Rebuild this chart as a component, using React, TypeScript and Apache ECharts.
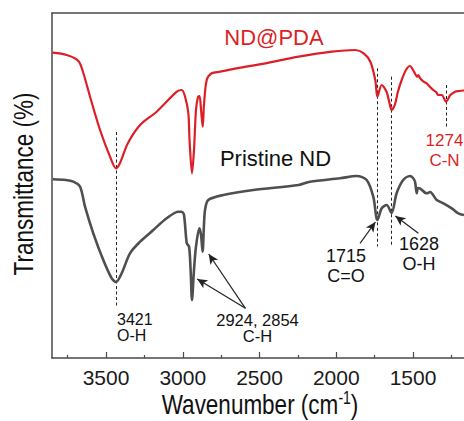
import React, { useEffect, useRef } from "react";
import * as echarts from "echarts";

// Wavenumber (cm-1) / transmittance (arbitrary offset units)
const ndPdaSpectrum: [number, number][] = [
  [3849, 305.3], [3756, 303], [3680, 297], [3648, 285], [3604, 261.3], [3539, 228],
  [3474, 201.3], [3435, 189.7], [3409, 195], [3357, 215], [3278, 233], [3170, 246.3],
  [3039, 266.3], [3007, 268], [2985, 261.3], [2964, 245], [2956, 218], [2940, 184.7],
  [2927, 208], [2914, 248], [2901, 261], [2891, 262], [2881, 248], [2870, 231.3],
  [2862, 253], [2844, 278], [2812, 284.7], [2757, 286.3], [2649, 289.7], [2462, 294.7],
  [2245, 301.3], [2028, 306.3], [1876, 308], [1821, 304.7], [1778, 296.3], [1746, 278],
  [1732, 261.3], [1704, 273], [1672, 266], [1652, 254], [1640, 248], [1619, 253],
  [1599, 266], [1574, 278], [1546, 288], [1520, 292], [1494, 286.3], [1472, 281.3],
  [1466, 283], [1455, 280], [1431, 276.3], [1411, 274.7], [1389, 271], [1368, 268],
  [1350, 266], [1335, 263], [1313, 263], [1285, 256.3], [1257, 263], [1226, 266.3],
  [1200, 267], [1168, 267.5],
];

const pristineSpectrum: [number, number][] = [
  [3847, 178.7], [3761, 178], [3713, 176.3], [3669, 171.3], [3637, 151.3], [3583, 124.7],
  [3518, 98], [3463, 79.7], [3435, 76], [3398, 84.7], [3344, 104.7], [3278, 116.3],
  [3192, 128], [3105, 139.7], [3029, 146.3], [3007, 146.3], [2992, 143], [2974, 114.7],
  [2959, 111.3], [2949, 88], [2940, 58], [2927, 88], [2914, 111.3], [2892, 129.7],
  [2881, 123], [2871, 106.3], [2862, 133], [2855, 148], [2834, 158], [2736, 163],
  [2540, 168], [2245, 173], [2171, 176.3], [1976, 179.7], [1867, 182], [1802, 178],
  [1759, 161.3], [1732, 138], [1704, 149.7], [1672, 153], [1640, 145], [1607, 164.7],
  [1564, 178], [1520, 182], [1500, 180], [1487, 176.3], [1476, 164.7], [1468, 170],
  [1455, 169.7], [1411, 164.7], [1389, 166], [1346, 158], [1302, 154.7], [1248, 149.7],
  [1205, 144.7], [1168, 143],
];

const majorTicks = [3500, 3000, 2500, 2000, 1500];
const minorTicks = [3750, 3250, 2750, 2250, 1750, 1250];
const xMin = 1168;
const xMax = 3852;
const yMin = 0;
const yMax = 345;

// Peak marker dashed lines: [wavenumber, top value, bottom value]
const peakGuides: [number, number, number][] = [
  [3435, 226, 50],
  [1732, 289.7, 111.5],
  [1640, 281.3, 111.5],
  [1285, 273, 231],
];

// Arrows: [tail x, tail y, head x, head y]
const arrows: [number, number, number, number][] = [
  [2592, 49.7, 2906, 79],
  [2592, 49.7, 2831, 104],
  [1845, 114.7, 1745, 136],
  [1465, 124.7, 1615, 142],
];

const RED = "#dc1f26";
const GRAY = "#4f4f4f";
const FONT = '"Liberation Sans", Arial, sans-serif';
const AXIS_COLOR = "#4a4a4a";

export default function App() {
  const ref = useRef<HTMLDivElement>(null);

  useEffect(() => {
    if (!ref.current) return;
    const chart = echarts.init(ref.current, undefined, { renderer: "svg" });

    const guideLines = peakGuides.map(([x, top, bottom]) => [
      { coord: [x, top], symbol: "none", lineStyle: { type: [3, 2.5], color: "#222", width: 1 } },
      { coord: [x, bottom], symbol: "none" },
    ]);
    const arrowLines = arrows.map(([x1, y1, x2, y2]) => [
      { coord: [x1, y1], symbol: "none", lineStyle: { type: "solid", color: "#222", width: 1.2 } },
      { coord: [x2, y2], symbol: "arrow", symbolSize: [7, 10] },
    ]);

    const txt = (
      text: string,
      x: number,
      y: number,
      size: number,
      color: string,
      lineHeight: number,
      align: string = "center"
    ) => ({
      type: "text",
      x,
      y,
      silent: true,
      style: {
        text,
        fill: color,
        fontSize: size,
        fontFamily: FONT,
        lineHeight,
        align,
        verticalAlign: "middle",
      },
    });

    chart.setOption({
      animation: false,
      backgroundColor: "#ffffff",
      grid: { left: 52, right: 0, top: 13, bottom: 63, containLabel: false },
      xAxis: [
        {
          type: "value",
          gridIndex: 0,
          inverse: true,
          min: xMin,
          max: xMax,
          position: "bottom",
          axisLine: { show: true, lineStyle: { color: AXIS_COLOR, width: 1.5 } },
          axisTick: {
            show: true,
            inside: true,
            length: 6,
            customValues: majorTicks,
            lineStyle: { color: AXIS_COLOR, width: 1.2 },
          },
          axisLabel: {
            show: true,
            customValues: majorTicks,
            formatter: (v: number) => String(v),
            fontSize: 21,
            fontFamily: FONT,
            color: "#1a1a1a",
            margin: 9,
          },
          splitLine: { show: false },
        },
        {
          type: "value",
          gridIndex: 0,
          inverse: true,
          min: xMin,
          max: xMax,
          position: "bottom",
          offset: 0,
          axisLine: { show: false },
          axisTick: {
            show: true,
            inside: true,
            length: 3,
            customValues: minorTicks,
            lineStyle: { color: AXIS_COLOR, width: 1.2 },
          },
          axisLabel: { show: false },
          splitLine: { show: false },
        },
        {
          type: "value",
          gridIndex: 0,
          inverse: true,
          min: xMin,
          max: xMax,
          position: "top",
          axisLine: { show: true, lineStyle: { color: AXIS_COLOR, width: 1.5 } },
          axisTick: { show: false },
          axisLabel: { show: false },
          splitLine: { show: false },
        },
      ],
      yAxis: {
        type: "value",
        min: yMin,
        max: yMax,
        axisLine: { show: true, lineStyle: { color: AXIS_COLOR, width: 1.5 } },
        axisTick: { show: false },
        axisLabel: { show: false },
        splitLine: { show: false },
      },
      series: [
        {
          name: "ND@PDA",
          type: "line",
          xAxisIndex: 0,
          data: ndPdaSpectrum,
          showSymbol: false,
          smooth: 0.3,
          silent: true,
          lineStyle: { color: RED, width: 2.2 },
          itemStyle: { color: RED },
          z: 3,
        },
        {
          name: "Pristine ND",
          type: "line",
          xAxisIndex: 0,
          data: pristineSpectrum,
          showSymbol: false,
          smooth: 0.3,
          silent: true,
          lineStyle: { color: GRAY, width: 2.6 },
          itemStyle: { color: GRAY },
          z: 3,
          markLine: {
            silent: true,
            animation: false,
            label: { show: false },
            emphasis: { disabled: true },
            data: [...guideLines, ...arrowLines],
            lineStyle: { color: "#222", width: 1 },
            z: 2,
          },
        },
      ],
      graphic: [
        txt("ND@PDA", 274, 37, 22, RED, 22),
        txt("Pristine ND", 275.5, 158, 22, "#111", 22),
        txt("3421\nO-H", 117, 327, 16, "#111", 16, "left"),
        txt("2924, 2854\nC-H", 257.5, 328, 16.5, "#111", 16.5),
        txt("1715\nC=O", 346, 266, 18, "#111", 20),
        txt("1628\nO-H", 419, 254, 18, "#111", 20.5),
        txt("1274\nC-N", 444.5, 150, 17, RED, 20),
        {
          type: "text",
          x: 23,
          y: 184,
          rotation: Math.PI / 2,
          scaleX: 1,
          scaleY: 1.25,
          silent: true,
          style: {
            text: "Transmittance (%)",
            fill: "#111",
            fontSize: 22.5,
            fontFamily: FONT,
            align: "center",
            verticalAlign: "middle",
          },
        },
        {
          type: "text",
          x: 260,
          y: 404,
          scaleX: 1,
          scaleY: 1.25,
          silent: true,
          style: {
            text: "{a|Wavenumber (cm}{s|-1}{a|)}",
            fill: "#111",
            align: "center",
            verticalAlign: "middle",
            rich: {
              a: { fontSize: 22.5, fontFamily: FONT, fill: "#111" },
              s: { fontSize: 14, fontFamily: FONT, fill: "#111", verticalAlign: "top" },
            },
          },
        },
      ],
    });

    return () => {
      chart.dispose();
    };
  }, []);

  return (
    <div
      ref={ref}
      style={{
        position: "fixed",
        left: 0,
        top: 0,
        width: 464,
        height: 421,
        background: "#fff",
      }}
    />
  );
}
